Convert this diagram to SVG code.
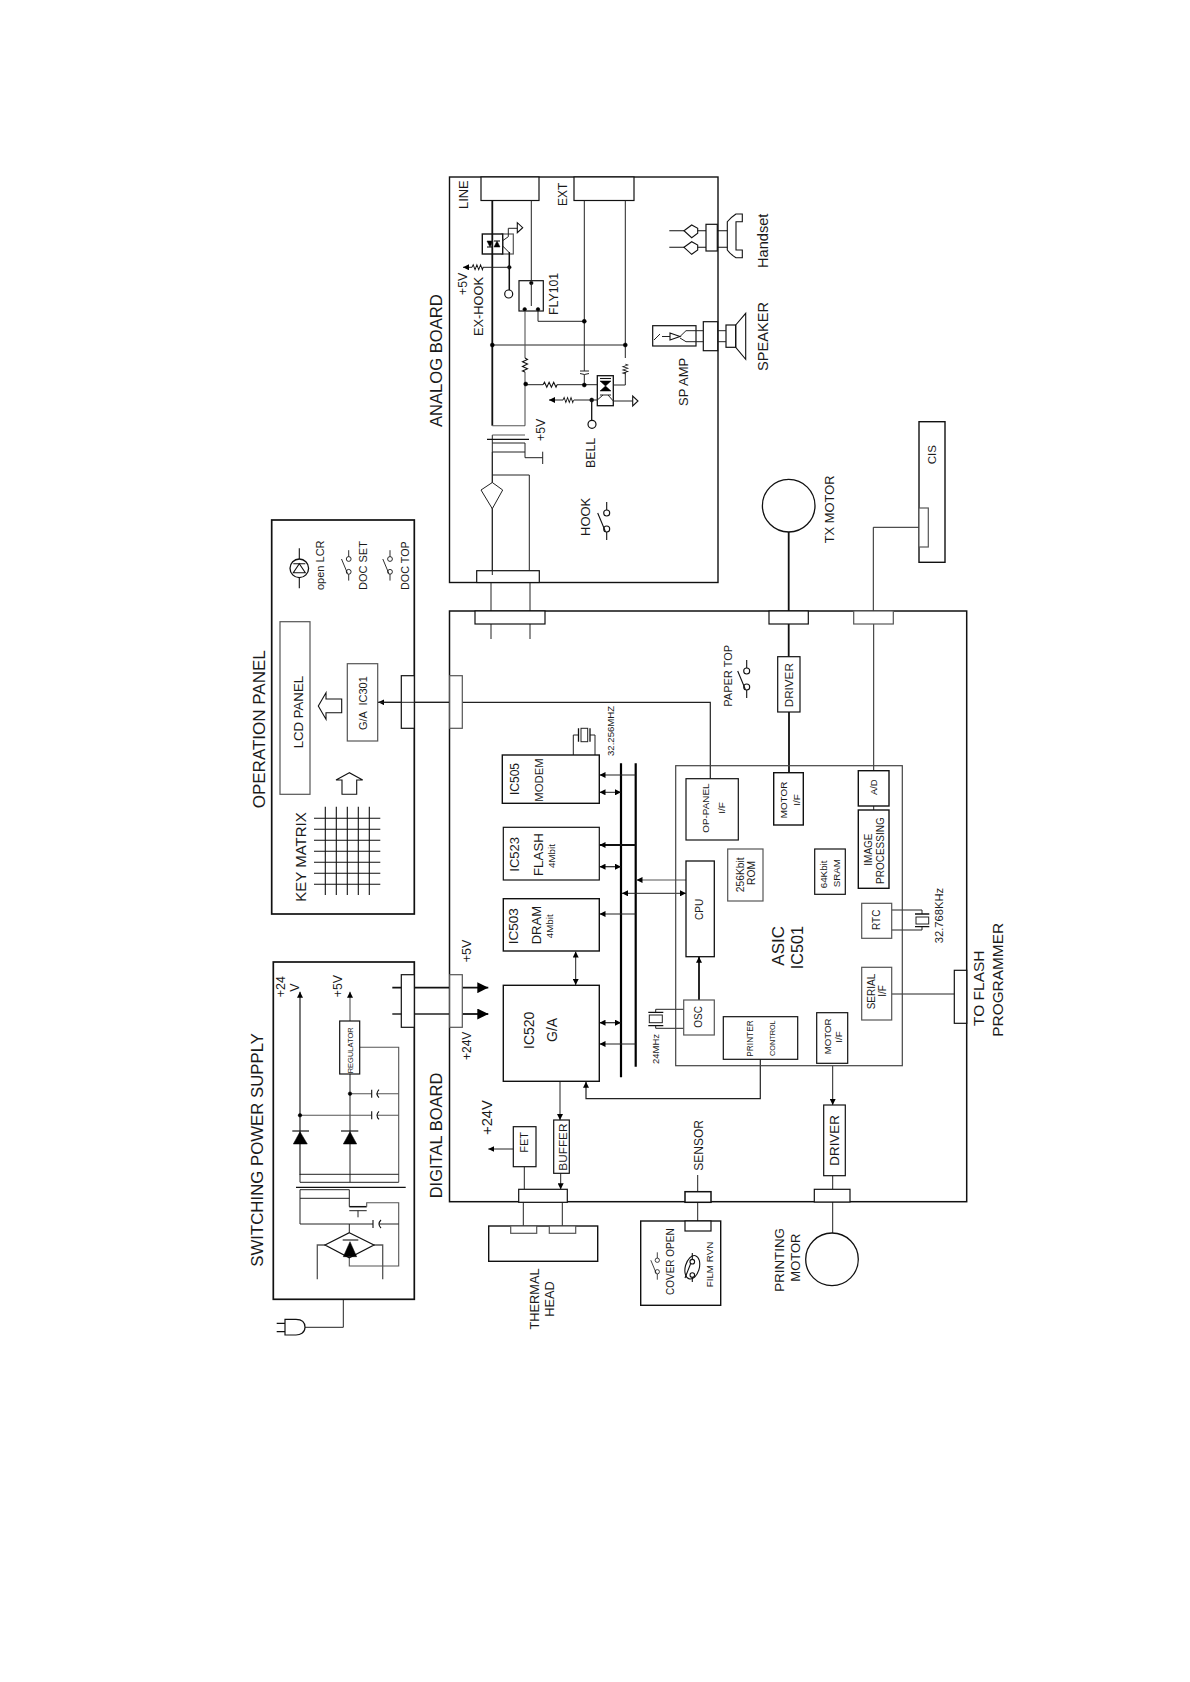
<svg xmlns="http://www.w3.org/2000/svg" xmlns:xlink="http://www.w3.org/1999/xlink" width="1190" height="1682" viewBox="0 0 1190 1682">
<style>
text{font-family:"Liberation Sans",Arial,sans-serif;fill:#1a1a1a}
.m{text-anchor:middle}
rect,circle,path,ellipse,polygon{fill:none;stroke:#111;stroke-width:1.1}
.box{fill:#fff;stroke:#111;stroke-width:1.2}
.hv{fill:#fff;stroke:#111;stroke-width:1.7}
.g{fill:#fff;stroke:#555;stroke-width:1.2}
.w{stroke:#222;stroke-width:1}
.w2{stroke:#111;stroke-width:1.8}
.ws{stroke:#555;stroke-width:1.1}
.bus{stroke:#000;stroke-width:2.2}
.k,path.k,polygon.k,circle.k{fill:#000;stroke:#000;stroke-width:.5}
.a{marker-end:url(#ah)}
.aa{marker-end:url(#ah);marker-start:url(#ah)}
.ab{marker-end:url(#ab)}
</style>
<defs>
<marker id="ah" markerUnits="userSpaceOnUse" viewBox="0 0 6 6" refX="6" refY="3" markerWidth="6" markerHeight="6" orient="auto-start-reverse"><path d="M0 0L6 3L0 6Z" style="fill:#000;stroke:none"/></marker>
<marker id="ab" markerUnits="userSpaceOnUse" viewBox="0 0 11 11" refX="11" refY="5.5" markerWidth="11" markerHeight="11" orient="auto"><path d="M0 0L11 5.5L0 11Z" style="fill:#000;stroke:none"/></marker>
<g id="sw"><circle cx="0" cy="-8" r="3"/><circle cx="0" cy="8" r="3"/><path d="M0 -11V-19M0 11V19M-9 -8L-1.5 10"/></g>
<path id="res" d="M0 0l1.5 -2.5l2.3 5l2.3 -5l2.3 5l2.3 -5l2.3 5l1 -2.5"/>
<g id="vres"><use href="#res" transform="rotate(90)"/></g>
</defs>
<rect x="0" y="0" width="1190" height="1682" style="fill:#fff;stroke:none"/>

<g id="analog-board">
<rect class="box" x="449.5" y="177" width="268.5" height="405.5" style="fill:none;stroke-width:1.4"/>
<text font-size="16.6" transform="translate(442 427) rotate(-90)">ANALOG BOARD</text>
<rect class="box" x="481" y="177" width="58" height="23.5"/>
<rect class="box" x="574" y="177" width="60" height="23.5"/>
<text font-size="12.9" transform="translate(468 209) rotate(-90)">LINE</text>
<text font-size="12" transform="translate(567 206) rotate(-90)">EXT</text>
<text font-size="12.3" transform="translate(467 295) rotate(-90)">+5V</text>
<text font-size="12.8" transform="translate(483 336) rotate(-90)">EX-HOOK</text>
<text font-size="12.3" transform="translate(558 315) rotate(-90)">FLY101</text>
<text font-size="12.3" transform="translate(545 441) rotate(-90)">+5V</text>
<text font-size="12.3" transform="translate(595 468) rotate(-90)">BELL</text>
<text font-size="13" transform="translate(590 536) rotate(-90)">HOOK</text>
<text font-size="13" transform="translate(688 406) rotate(-90)">SP AMP</text>
<text font-size="14.6" transform="translate(768 371) rotate(-90)">SPEAKER</text>
<text font-size="14.6" transform="translate(768 268) rotate(-90)">Handset</text>
<use href="#sw" transform="translate(606.7 521)"/>
<rect class="box" x="476.7" y="570.7" width="62.6" height="11.8"/>
</g>

<g id="ex-hook-opto">
<rect class="g" x="502" y="234" width="11.3" height="20"/>
<rect class="box" x="482.3" y="234" width="20.4" height="20" style="stroke-width:1.4"/>
<path class="k" d="M487 241H493L490 247Z"/><path d="M487 247H493"/>
<path class="k" d="M494 247H500L497 241Z"/><path d="M494 241H500"/>
<path class="w" d="M502.7 238V248M502.7 240.7L508.3 236.7V228.3H517.3M502.7 246L509.3 252.7"/>
<polygon points="517.3,222.7 517.3,232.7 522.7,227.7"/>
</g>
<g id="relay-fly101">
<rect class="box" x="519" y="280.7" width="24.3" height="30.3"/>
<circle class="k" cx="531.3" cy="283" r="1.8"/><circle class="k" cx="524.7" cy="309.3" r="1.8"/><circle class="k" cx="538" cy="309.3" r="1.8"/>
<path class="w" d="M531.3 283V306"/>
</g>
<g id="bell-opto">
<rect class="box" x="597.3" y="375.7" width="16" height="30" style="stroke-width:1.3"/>
<path class="k" d="M600 381L611 381L605.5 386Z"/><path class="k" d="M600 391L611 391L605.5 386Z"/><path d="M600 378.5H611"/>
<path class="w" d="M600 395H611M603 395L597.3 400M608 395L613.3 401"/>
</g>
<g id="handset">
<rect class="box" x="706" y="224.3" width="11.3" height="26.7"/>
<path d="M669.3 230.7H684M697.7 230.7H706M669.3 247.3H684M697.7 247.3H706M717.3 230.7H727.3M717.3 247.3H727.3"/>
<path d="M684 230.7L691.7 225L697.7 228.3V233.3L691.7 237.7Z"/>
<path d="M684 247.3L691.7 241.7L697.7 245V250L691.7 254.3Z"/>
<path d="M727.3 221.7Q730 218 736 214H742.3V221.7H736V250H742.3V257.7H736Q730 254 727.3 250Z"/>
</g>
<g id="speaker-sp-amp">
<rect class="box" x="652.7" y="325.7" width="43.3" height="20.3"/>
<rect class="box" x="703.3" y="321.7" width="14.4" height="29"/>
<rect class="box" x="726" y="325" width="9.7" height="22.3"/>
<polygon points="735.7,325 745.7,313.3 745.7,359.3 735.7,347.3"/>
<polygon points="670,333 670,340 680,336.5"/>
<path class="w" d="M654 340L660 334M662 336.5H670M680 336.5L686 330.7H696M680 338L686 341.7H696M696 330.7H703.3M696 341.7H703.3M717.7 330.7H726M717.7 341.7H726"/>
</g>

<g id="connectors">
<!-- analog -->
<path class="w2" d="M492.3 200.5V425.7"/>
<path class="w" d="M492.3 435V570.7"/>
<path class="w" d="M531.3 200.5V281M584.3 200.5V371M584.3 374.5V385M625.3 200.5V358M625.3 372V385H613.3"/>
<path class="w" d="M538 311V321.3H584.3"/>
<path class="w" d="M492.3 345H625.3"/>
<path class="ws" d="M525 311V358M525 372V425.7M492.3 425.7H525M492.3 435H525"/>
<path class="w2" d="M487 439.3H529" style="stroke-width:1.2"/>
<path class="w" d="M492.3 443H525V452H492.3M492.3 452V575M525 452V457.7H542.7M542.7 451.7V464"/>
<path class="w" d="M492.3 475H529.3V570.7"/>
<path class="w" d="M481 490L492.3 482.5L502.7 490L492.3 508.7Z" style="fill:#fff"/>
<path class="w" d="M525.7 384.7H543M557 384.7H597.3"/>
<use href="#res" transform="translate(543 384.7)"/>
<use href="#vres" transform="translate(525 358)"/>
<use href="#vres" transform="translate(625.3 364) scale(1 .7)"/>
<path class="w" d="M580 371H589M580 373.5Q584.3 375.5 589 373.5"/>
<circle class="k" cx="492.3" cy="345" r="2"/><circle class="k" cx="625.3" cy="345" r="2"/><circle class="k" cx="584.3" cy="321.3" r="2"/><circle class="k" cx="525.7" cy="384" r="2"/><circle class="k" cx="584.3" cy="385" r="2"/><circle class="k" cx="591.7" cy="400" r="2"/><circle class="k" cx="509.3" cy="267.3" r="1.8"/>
<path class="w a" d="M563 400H549"/>
<use href="#res" transform="translate(563 400) scale(.75 1)"/>
<path class="w" d="M574 400H597.3M613.3 401H632.7"/>
<polygon points="632.7,396 632.7,406 638,401"/>
<path class="w2" d="M591.7 400V420.3" style="stroke-width:1.3"/>
<circle cx="592" cy="424.3" r="4" style="stroke-width:1.2"/>
<path class="w2" d="M509.3 252V290" style="stroke-width:1.5"/>
<circle cx="508.7" cy="294" r="4" style="stroke-width:1.2"/>
<path class="w a" d="M472 267.3H463"/>
<use href="#res" transform="translate(472 267.3) scale(.8 1)"/>
<path class="w" d="M482.7 267.3H509.3"/>
<!-- analog / digital -->
<path class="w" d="M491 582.5V639M530 582.5V639"/>
<!-- panel link -->
<path class="w a" d="M710.3 778.7V702.3H378.3" style="stroke-width:1.2"/>
<!-- digital internal -->
<path class="bus" d="M621 763.3V1077.3M635.7 763.3V1066.7"/>
<path class="w a" d="M635.7 775H599.5" style="stroke-width:1.2"/>
<path class="w aa" d="M621 792.3H599.5"/>
<path class="w2 a" d="M635.7 845H599.5"/>
<path class="w aa" d="M621 866.7H599.5" style="stroke-width:1.2"/>
<path class="w a" d="M635.7 914H599.5" style="stroke-width:1.2"/>
<path class="ws a" d="M688.3 880H636.5"/>
<path class="w aa" d="M622 893.3H686"/>
<path class="w aa" d="M575.7 951.5V985"/>
<path class="w aa" d="M621 1022.7H599.5" style="stroke-width:1.2"/>
<path class="w a" d="M635.7 1044H599.5" style="stroke-width:1.2"/>
<path class="w2 ab" d="M392.3 987.7H488.3"/>
<path class="w2 ab" d="M462.3 1014H488.3"/>
<path class="w" d="M392.3 1014H462.3" style="stroke-width:1.3"/>
<path class="w a" d="M760.3 1059.3V1098.7H586V1081.7" style="stroke-width:1.2"/>
<path class="w a" d="M560 1081.3V1120"/>
<path class="w a" d="M560.7 1173.3V1189.3"/>
<path class="w" d="M524.3 1166.7V1189.3M523.3 1202.3V1226M562.3 1202.3V1226"/>
<path class="w a" d="M513.3 1149H488.3"/>
<path class="w" d="M697.7 1175V1191.7M697.7 1202.3V1221"/>
<path class="w2 a" d="M699 1000V956.7"/>
<path class="w a" d="M832.7 1065.7V1105"/>
<path class="w" d="M832.7 1175.7V1189.3M832.7 1202V1233"/>
<path class="w2" d="M788.7 532V656.7M789 712V772.7"/>
<path class="w" d="M873.7 624V770.7M873.7 806V810M873.3 611V527.3H919"/>
<path class="w" d="M891.7 994H954.3"/>
<path class="w" d="M573.3 755V735H578M595 755V735H590"/>
<path class="w" d="M891.7 910H922V914M891.7 930H922V926.7"/>
<path class="w" d="M684 1009.3H655.7V1012.3M684 1028.3H655.7V1025.7"/>
<!-- power supply -->
<path class="w a" d="M300 1175V991.7" style="stroke-width:1.2"/>
<path class="ws a" d="M350 1021V991.7"/>
<path class="w" d="M350 1074V1182.3"/>
<path class="ws" d="M359.7 1047.3H398.7V1182.3"/>
<path class="ws" d="M350 1093.7H371.7M376.7 1093.7H398.7M300 1115.3H371.7M376.7 1115.3H398.7"/>
<path d="M371.7 1089.7V1097.7M379 1089.7Q375 1093.7 379 1097.7M371.7 1111.3V1119.3M379 1111.3Q375 1115.3 379 1119.3"/>
<circle class="k" cx="350" cy="1093.7" r="1.8"/><circle class="k" cx="300" cy="1115.3" r="1.8"/>
<path class="w" d="M300 1174.3H398.7M300 1182.3H398.7M300 1174.3V1182.3"/>
<path class="w2" d="M296 1187.3H405.7" style="stroke-width:1.3"/>
<path class="w" d="M300 1189.7H349.3M300 1198.3H349.3M300 1189.7V1224M349.3 1189.7V1206.7"/>
<path class="w2" d="M349.3 1206.7H366.7" style="stroke-width:1.5"/>
<path class="ws" d="M366.7 1206.7V1202.7H398.7V1266H349.3V1257.7"/>
<path class="w" d="M349.3 1210.7H366.7M358 1210.7V1217.3"/>
<path class="w" d="M300 1224H373M379 1224H398.7M349.3 1224V1232.7"/>
<path d="M373 1220V1228M381 1220Q377 1224 381 1228"/>
<path class="ws" d="M325 1245H317.3V1279.3M374 1245H382.7V1279.3" style="stroke-width:1.3"/>
<path class="w" d="M343.3 1299.3V1327.3H305"/>
</g>

<g id="operation-panel">
<rect class="hv" x="271.7" y="520" width="142.6" height="394" style="fill:none"/>
<text font-size="17" transform="translate(265 808.3) rotate(-90)">OPERATION PANEL</text>
<circle cx="299.3" cy="568.3" r="9.3" style="stroke-width:1.3"/>
<path d="M299.3 548.3V559M299.3 578V588.3M293.3 563.7H305.3"/>
<polygon points="293.3,572.7 305.3,572.7 299.3,563.7"/>
<text font-size="11" transform="translate(324.3 590) rotate(-90)">open LCR</text>
<text font-size="11" transform="translate(366.7 590) rotate(-90)">DOC SET</text>
<text font-size="10.8" transform="translate(409.3 590) rotate(-90)">DOC TOP</text>
<use href="#sw" transform="translate(348.7 565.4) scale(.8)"/>
<use href="#sw" transform="translate(390 565.4) scale(.8)"/>
<rect class="g" x="280" y="621.7" width="30" height="172.6"/>
<text font-size="13.2" transform="translate(302.7 748.3) rotate(-90)">LCD PANEL</text>
<polygon points="318.3,706 326,692.7 326,699 341.7,699 341.7,712.7 326,712.7 326,719.3"/>
<polygon points="349.3,772.7 336,780 342,780 342,794.3 356.7,794.3 356.7,780 362.7,780"/>
<rect class="g" x="347.3" y="663.7" width="30.4" height="77.3"/>
<text font-size="11" xml:space="preserve" transform="translate(367.3 730) rotate(-90)">G/A  IC301</text>
<text font-size="15" transform="translate(305.7 901.7) rotate(-90)">KEY MATRIX</text>
<path d="M325.3 806.7V895M336.3 806.7V895M347.3 806.7V895M358.3 806.7V895M369.3 806.7V895M314 818.3H380.3M314 829.3H380.3M314 840.3H380.3M314 851.3H380.3M314 862.3H380.3M314 873.3H380.3M314 884.3H380.3"/>
<rect class="box" x="401.3" y="675.7" width="13" height="52.6"/>
<path class="w" d="M378 702.3H449.7"/>
</g>

<g id="switching-power-supply">
<rect class="hv" x="273.3" y="962" width="141" height="337.3" style="fill:none"/>
<text font-size="16.8" transform="translate(263.3 1266.7) rotate(-90)">SWITCHING POWER SUPPLY</text>
<text font-size="12.5" transform="translate(285 997.3) rotate(-90)">+24</text>
<text font-size="12.5" transform="translate(299 991.7) rotate(-90)">V</text>
<text font-size="12.3" transform="translate(341.7 997.3) rotate(-90)">+5V</text>
<rect class="box" x="339.7" y="1021" width="20" height="53"/>
<text font-size="7.5" transform="translate(352.7 1073.3) rotate(-90)">REGULATOR</text>
<polygon class="k" points="293.3,1144 307.3,1144 300,1131.7"/><path d="M292.3 1131H309" style="stroke-width:1.2"/>
<polygon class="k" points="343.3,1144 356.7,1144 350,1131.7"/><path d="M341 1131H358.3" style="stroke-width:1.2"/>
<polygon class="box" points="349.3,1232.7 374,1245 349.3,1257.7 325,1245"/>
<polygon class="k" points="343.3,1256.7 356.7,1256.7 350,1241.7"/><path d="M342.7 1240H358.3"/>
<rect class="box" x="401.3" y="974.7" width="13" height="52.6"/>
</g>
<g id="plug">
<path d="M305 1327.3C305 1321 300 1319.3 296 1319.3H285V1335H296C300 1335 305 1333 305 1327.3ZM285 1323.3H276.7M285 1331.7H276.7" style="stroke-width:1.2"/>
</g>

<g id="digital-board">
<rect class="hv" x="449.5" y="611" width="517.2" height="590.7" style="fill:none;stroke-width:1.5"/>
<text font-size="16.5" transform="translate(441.7 1198.3) rotate(-90)">DIGITAL BOARD</text>
<rect class="box" x="475" y="611" width="70" height="13"/>
<rect class="g" x="449.7" y="675.7" width="12.6" height="52.6"/>
<rect class="g" x="449.7" y="974.7" width="12.6" height="52.6"/>
<rect class="box" x="769" y="611" width="39.3" height="13"/>
<rect class="g" x="853.7" y="611" width="39.6" height="13"/>
<rect class="box" x="954.3" y="970.3" width="12.4" height="53"/>
<rect class="box" x="814.3" y="1189.3" width="35.7" height="12.7"/>
<rect class="box" x="685" y="1191.7" width="26" height="10.6" style="stroke-width:1.5"/>
<rect class="box" x="518.7" y="1189.3" width="48.6" height="13"/>
<text font-size="12.5" transform="translate(470.7 962.3) rotate(-90)">+5V</text>
<text font-size="12" transform="translate(470.7 1060) rotate(-90)">+24V</text>
<text font-size="14.8" transform="translate(492.3 1135) rotate(-90)">+24V</text>
<text font-size="12" transform="translate(703.3 1170.7) rotate(-90)">SENSOR</text>
<text font-size="15.5" transform="translate(984.3 1026) rotate(-90)">TO FLASH</text>
<text font-size="15.4" transform="translate(1003.3 1036.7) rotate(-90)">PROGRAMMER</text>
<text font-size="11" transform="translate(731.7 706.7) rotate(-90)">PAPER TOP</text>
<use href="#sw" transform="translate(746.7 679)"/>
<text font-size="9.6" transform="translate(614.3 756) rotate(-90)">32.256MHZ</text>
<rect class="w" x="581" y="728.3" width="6.7" height="13.4"/>
<path d="M578.5 728.3V741.7M590 728.3V741.7" style="stroke-width:1.3"/>
<text font-size="9.5" transform="translate(659 1064) rotate(-90)">24MHz</text>
<rect class="w" x="649.3" y="1015" width="13" height="7.7"/>
<path d="M648.3 1012.3H663.3M648.3 1025.7H663.3" style="stroke-width:1.3"/>
</g>
<g id="ic505"><rect class="box" x="502.3" y="755" width="97" height="48.3" style="stroke-width:1.4"/>
<text font-size="12" transform="translate(519.3 795) rotate(-90)">IC505</text>
<text font-size="11.3" transform="translate(543.3 801.7) rotate(-90)">MODEM</text></g>
<g id="ic523"><rect class="box" x="503.3" y="827.3" width="96" height="52.7"/>
<text font-size="13" transform="translate(519.3 871.7) rotate(-90)">IC523</text>
<text font-size="13.3" transform="translate(543.3 876) rotate(-90)">FLASH</text>
<text font-size="9.8" transform="translate(555 868) rotate(-90)">4Mbit</text></g>
<g id="ic503"><rect class="box" x="503.3" y="898.7" width="96" height="52.3" style="stroke-width:1.4"/>
<text font-size="13.5" transform="translate(517.7 944.3) rotate(-90)">IC503</text>
<text font-size="13" transform="translate(541 944.3) rotate(-90)">DRAM</text>
<text font-size="9.8" transform="translate(553.3 938.3) rotate(-90)">4Mbit</text></g>
<g id="ic520"><rect class="box" x="503.3" y="985.3" width="96" height="96" style="stroke-width:1.4"/>
<text font-size="14" transform="translate(534 1049) rotate(-90)">IC520</text>
<text font-size="14" transform="translate(557 1042) rotate(-90)">G/A</text></g>
<g id="fet"><rect class="box" x="513.3" y="1126.7" width="22.7" height="40"/>
<text font-size="11" transform="translate(528.3 1152.7) rotate(-90)">FET</text></g>
<g id="buffer"><rect class="box" x="553.7" y="1120" width="15.6" height="53.3"/>
<text font-size="11.8" transform="translate(566.7 1170.7) rotate(-90)">BUFFER</text></g>
<g id="thermal-head"><rect class="box" x="488.7" y="1226" width="109" height="35.3" style="fill:none;stroke-width:1.4"/>
<rect class="g" x="510.7" y="1226" width="26" height="7.3"/><rect class="g" x="549.3" y="1226" width="26.4" height="7.3"/>
<text class="m" font-size="12.8" transform="translate(539.3 1299) rotate(-90)">THERMAL</text>
<text class="m" font-size="12.8" transform="translate(554 1299) rotate(-90)">HEAD</text></g>
<g id="cover-sensor"><rect class="box" x="640.7" y="1221" width="80" height="84.3" style="fill:none;stroke-width:1.4"/>
<rect class="box" x="685" y="1221" width="26" height="10"/>
<use href="#sw" transform="translate(657.3 1266) scale(.72)"/>
<text font-size="10" transform="translate(674.3 1295) rotate(-90)">COVER OPEN</text>
<ellipse cx="692.3" cy="1267.3" rx="7" ry="12" transform="rotate(15 692.3 1267.3)"/>
<circle cx="692.3" cy="1261.7" r="2.3"/><circle cx="692.3" cy="1275" r="2.3"/>
<path d="M692.3 1253V1259M692.3 1277V1282M685 1278L690.5 1264"/>
<text font-size="9.8" transform="translate(712.7 1287.3) rotate(-90)">FILM RVN</text></g>
<g id="printing-driver"><rect class="box" x="823.7" y="1105" width="21.6" height="70.7"/>
<text font-size="13.4" transform="translate(839 1165.7) rotate(-90)">DRIVER</text></g>
<g id="printing-motor"><circle cx="832" cy="1259.3" r="26.3" style="stroke-width:1.3"/>
<text font-size="13.3" transform="translate(784.3 1291.7) rotate(-90)">PRINTING</text>
<text font-size="13" transform="translate(800 1281.7) rotate(-90)">MOTOR</text></g>
<g id="tx-driver"><rect class="box" x="777.7" y="656.7" width="22.3" height="55.3"/>
<text font-size="11.7" transform="translate(793.3 707.3) rotate(-90)">DRIVER</text></g>
<g id="tx-motor"><circle cx="788.7" cy="505.7" r="26.3" style="stroke-width:1.3"/>
<text font-size="12.9" transform="translate(834.3 543.3) rotate(-90)">TX MOTOR</text></g>
<g id="cis"><rect class="box" x="919" y="421.7" width="26" height="140.6" style="fill:none;stroke-width:1.4"/>
<rect class="g" x="919" y="508" width="9.3" height="39"/>
<text font-size="11.6" transform="translate(935.7 464.3) rotate(-90)">CIS</text></g>
<g id="rtc-crystal"><rect class="w" x="916" y="917" width="12.7" height="7"/><path d="M915 914H929.3M915 926.7H929.3" style="stroke-width:1.3"/>
<text font-size="11.2" transform="translate(942.7 943.3) rotate(-90)">32.768KHz</text></g>

<g id="asic-ic501">
<rect class="g" x="675.7" y="765.7" width="226.6" height="300" style="fill:none;stroke:#444"/>
<text font-size="17" transform="translate(784 965.7) rotate(-90)">ASIC</text>
<text font-size="16.2" transform="translate(803.3 969.3) rotate(-90)">IC501</text>
</g>
<g id="op-panel-if"><rect class="box" x="686" y="778.7" width="52.3" height="61.3"/>
<text font-size="9.9" transform="translate(709.3 832.7) rotate(-90)">OP-PANEL</text>
<text class="m" font-size="9.9" transform="translate(725 808) rotate(-90)">I/F</text></g>
<g id="cpu"><rect class="box" x="686" y="861" width="28.3" height="95.7" style="stroke-width:1.3"/>
<text font-size="10" transform="translate(703.3 920) rotate(-90)">CPU</text></g>
<g id="osc"><rect class="g" x="683.7" y="1000" width="30.6" height="35"/>
<text font-size="10" transform="translate(701.7 1027.7) rotate(-90)">OSC</text></g>
<g id="rom"><rect class="g" x="727.7" y="849" width="35.3" height="52"/>
<text font-size="10.3" transform="translate(744 892.3) rotate(-90)">256Kbit</text>
<text font-size="10.3" transform="translate(755 885) rotate(-90)">ROM</text></g>
<g id="sram"><rect class="box" x="814.7" y="849" width="30.6" height="45.3"/>
<text font-size="9.8" transform="translate(826.7 888.3) rotate(-90)">64Kbit</text>
<text font-size="9.8" transform="translate(840 887.3) rotate(-90)">SRAM</text></g>
<g id="printer-control"><rect class="box" x="723.3" y="1016.7" width="74.4" height="42.6"/>
<text font-size="8.3" transform="translate(753.3 1056.7) rotate(-90)">PRINTER</text>
<text font-size="7.3" transform="translate(775 1056) rotate(-90)">CONTROL</text></g>
<g id="motor-if-2"><rect class="box" x="816.7" y="1012.7" width="31" height="50.6"/>
<text font-size="9.7" transform="translate(831 1054.3) rotate(-90)">MOTOR</text>
<text class="m" font-size="9.7" transform="translate(842.3 1037) rotate(-90)">I/F</text></g>
<g id="motor-if-1"><rect class="hv" x="773.7" y="772.7" width="29.6" height="52.3" style="stroke-width:1.4"/>
<text font-size="9.9" transform="translate(787.3 818.3) rotate(-90)">MOTOR</text>
<text class="m" font-size="9.9" transform="translate(800 800) rotate(-90)">I/F</text></g>
<g id="ad"><rect class="hv" x="858.3" y="770.7" width="30.7" height="35.3" style="stroke-width:1.4"/>
<text font-size="9.4" transform="translate(876.7 795) rotate(-90)">A/D</text></g>
<g id="image-processing"><rect class="hv" x="858.3" y="810" width="30.7" height="78.3" style="stroke-width:1.4"/>
<text font-size="10" transform="translate(871.7 865.7) rotate(-90)">IMAGE</text>
<text font-size="10" transform="translate(884 884) rotate(-90)">PROCESSING</text></g>
<g id="rtc"><rect class="g" x="861.7" y="903.3" width="30" height="35"/>
<text font-size="10" transform="translate(880 930) rotate(-90)">RTC</text></g>
<g id="serial-if"><rect class="g" x="861.7" y="967.3" width="30" height="52.7"/>
<text font-size="10" transform="translate(875 1009.3) rotate(-90)">SERIAL</text>
<text class="m" font-size="10" transform="translate(886 991) rotate(-90)">I/F</text></g>
</svg>
